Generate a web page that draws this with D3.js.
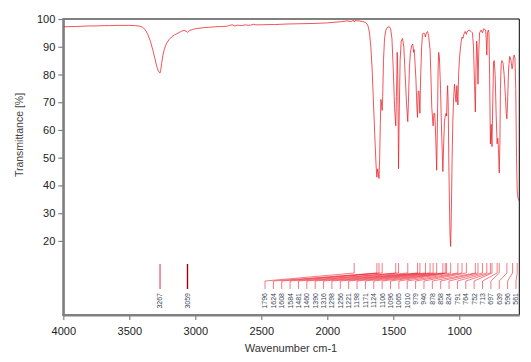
<!DOCTYPE html>
<html><head><meta charset="utf-8">
<script src="https://cdn.jsdelivr.net/npm/d3@7"></script>
<style>body{margin:0;background:#fff;}svg{display:block;font-family:"Liberation Sans",Arial,sans-serif;}</style>
</head><body><svg id="c" width="531" height="362"></svg>
<script>
// Spectrum: wavenumber (cm-1) and transmittance (%)
const wavenumber = [4000,3900,3850,3800,3750,3700,3650,3600,3550,3500,3450,3420,3400,3380,3360,3340,3320,3300,3290,3280,3272,3267,3262,3255,3245,3235,3220,3200,3180,3160,3140,3120,3100,3085,3070,3059,3050,3040,3020,3000,2950,2900,2850,2800,2760,2740,2720,2700,2680,2650,2620,2600,2580,2560,2540,2500,2450,2400,2300,2200,2100,2000,1950,1900,1850,1820,1800,1796,1790,1760,1730,1710,1700,1690,1680,1670,1660,1650,1640,1630,1624,1618,1612,1608,1603,1598,1594,1590,1584,1580,1574,1566,1556,1545,1530,1520,1510,1500,1490,1481,1476,1470,1466,1460,1455,1448,1440,1430,1420,1410,1400,1390,1385,1378,1370,1360,1352,1346,1342,1336,1328,1320,1316,1311,1305,1298,1293,1285,1278,1270,1262,1256,1250,1240,1232,1226,1221,1215,1208,1198,1192,1186,1180,1171,1166,1160,1156,1150,1142,1134,1124,1118,1112,1106,1100,1096,1092,1088,1084,1078,1070,1065,1060,1054,1048,1042,1036,1030,1024,1018,1014,1010,1005,998,990,985,979,972,965,955,946,940,925,910,900,892,884,878,874,868,864,858,852,846,835,824,815,800,795,791,786,780,775,770,764,758,752,746,740,735,728,720,713,708,703,697,692,688,682,676,668,660,650,644,639,634,626,618,612,605,600,596,590,584,578,572,566,561,555,548];
const transmittance = [97.2,97.3,97.4,97.5,97.5,97.6,97.6,97.7,97.7,97.7,97.6,97.4,97.0,96.2,94.5,92.0,88.5,84.5,82.6,81.3,80.7,80.5,81.5,84.0,87.0,89.0,91.0,92.5,93.5,94.2,94.7,95.2,95.7,95.9,95.6,95.2,95.6,95.9,96.2,96.5,96.8,97.0,97.2,97.3,97.4,97.7,97.9,97.5,97.8,97.6,97.9,97.7,97.8,98.1,97.9,97.9,98.0,98.0,98.2,98.3,98.4,98.6,98.8,99.0,99.3,99.1,99.5,99.0,99.4,99.3,99.1,98.7,98.3,97.3,95.0,90.0,82.0,70.0,58.0,47.0,43.0,46.0,44.0,42.5,50.0,62.0,71.0,70.0,67.0,72.0,85.0,93.0,96.0,97.0,97.2,96.5,93.0,82.0,68.0,61.5,72.0,88.0,80.0,46.0,65.0,85.0,92.0,93.0,90.0,80.0,70.0,63.0,70.0,82.0,88.0,90.5,91.0,88.0,89.0,85.0,78.0,67.0,64.5,74.0,74.0,66.0,78.0,90.0,94.5,95.0,94.5,93.5,95.0,95.5,94.0,91.0,89.0,80.0,68.0,61.5,66.0,66.0,60.0,45.5,60.0,82.0,88.0,86.0,75.0,60.0,45.0,55.0,63.0,65.0,66.0,65.0,72.0,76.0,70.0,45.0,22.0,18.0,30.0,50.0,64.0,72.0,76.5,73.0,70.0,76.0,72.0,69.0,80.0,86.0,90.0,92.0,93.5,93.0,94.5,95.5,94.5,95.5,96.0,95.5,95.0,90.0,76.0,66.5,80.0,92.0,90.0,76.5,88.0,95.0,96.0,95.0,96.5,96.0,92.0,87.0,95.0,96.0,95.0,80.0,55.0,62.0,54.0,70.0,84.5,85.0,80.0,65.0,55.0,57.0,53.0,44.5,55.0,75.0,84.0,85.0,84.0,80.0,72.0,66.0,64.0,70.0,82.0,86.5,86.0,84.0,82.0,82.5,86.0,87.0,86.0,75.0,50.0,38.0,35.5,34.5];
const peakLabels = [3267,3059,1796,1624,1608,1584,1481,1460,1390,1316,1298,1256,1221,1198,1171,1124,1106,1096,1065,1010,979,946,878,858,824,791,764,752,713,697,639,596,561];
const xTicks = [4000,3500,3000,2500,2000,1500,1000];
const yTicks = [20,30,40,50,60,70,80,90,100];

const svg = d3.select("#c");
const L = 63.3, R = 519.3, T = 19, B = 315;
const x = d3.scaleLinear().domain([4000, 545]).range([L, R]);
const y = d3.scaleLinear().domain([-6.7, 100]).range([B, T]);

// frame
svg.append("line").attr("x1",L).attr("x2",R).attr("y1",T).attr("y2",T).attr("stroke","#808080").attr("stroke-width",2);
svg.append("line").attr("x1",R).attr("x2",R).attr("y1",T).attr("y2",B).attr("stroke","#000").attr("stroke-width",1);

// axes
const yAxis = svg.append("g").attr("transform",`translate(${L},0)`)
  .call(d3.axisLeft(y).tickValues(yTicks).tickSize(5).tickPadding(3).tickSizeOuter(0));
const xAxis = svg.append("g").attr("transform",`translate(0,${B})`)
  .call(d3.axisBottom(x).tickValues(xTicks).tickSize(5).tickPadding(7).tickFormat(d3.format("d")).tickSizeOuter(0));
[yAxis,xAxis].forEach(g=>{
  g.select(".domain").attr("stroke","#808080").attr("stroke-width",2);
  g.selectAll(".tick line").attr("stroke","#808080").attr("stroke-width",1.2);
  g.selectAll(".tick text").attr("fill","#222").style("font-size","11px").style("font-family","Liberation Sans, Arial, sans-serif");
});
svg.append("line").attr("x1",L).attr("x2",L).attr("y1",T-1).attr("y2",B+1).attr("stroke","#808080").attr("stroke-width",2);
svg.append("line").attr("x1",L-1).attr("x2",R).attr("y1",B).attr("y2",B).attr("stroke","#808080").attr("stroke-width",2);

// titles
svg.append("text").attr("x",291).attr("y",351.5).attr("text-anchor","middle")
  .attr("fill","#333").style("font-size","11px").text("Wavenumber cm-1");
svg.append("text").attr("transform","translate(23,135) rotate(-90)").attr("text-anchor","middle")
  .attr("fill","#444").style("font-size","10.5px").text("Transmittance [%]");

// spectrum
const pts = wavenumber.map((w,i)=>[w,transmittance[i]]);
svg.append("clipPath").attr("id","clip").append("rect").attr("x",L).attr("y",T-2).attr("width",R-L).attr("height",B-T+2);
svg.append("path").datum(pts).attr("clip-path","url(#clip)")
  .attr("fill","none").attr("stroke","#ec1c24").attr("stroke-width",0.75)
  .attr("d", d3.line().x(d=>x(d[0])).y(d=>y(d[1])));

// peak labels
const crowded = peakLabels.filter(p=>p<2000);
const slot = d3.scalePoint().domain(crowded).range([265, 516]);
const g = svg.append("g");
peakLabels.forEach(p=>{
  const px = x(p);
  if (p >= 2000) {
    g.append("line").attr("x1",px).attr("x2",px).attr("y1",264).attr("y2",289)
      .attr("stroke", p===3059 ? "#a0000a" : "#d8303a").attr("stroke-width", p===3059 ? 1.4 : 1);
    g.append("text").attr("transform",`translate(${px+2.4},293) rotate(-90)`).attr("text-anchor","end")
      .attr("fill","#3a4558").style("font-size","7px").text(p);
  } else {
    const lx = slot(p);
    g.append("polyline").attr("points",`${px},263 ${px},273 ${lx},281 ${lx},289`)
      .attr("fill","none").attr("stroke","#ee2030").attr("stroke-width",0.7).attr("stroke-opacity",0.85);
    g.append("text").attr("transform",`translate(${lx+2.4},293) rotate(-90)`).attr("text-anchor","end")
      .attr("fill","#3a4558").style("font-size","7px").text(p);
  }
});
</script></body></html>
